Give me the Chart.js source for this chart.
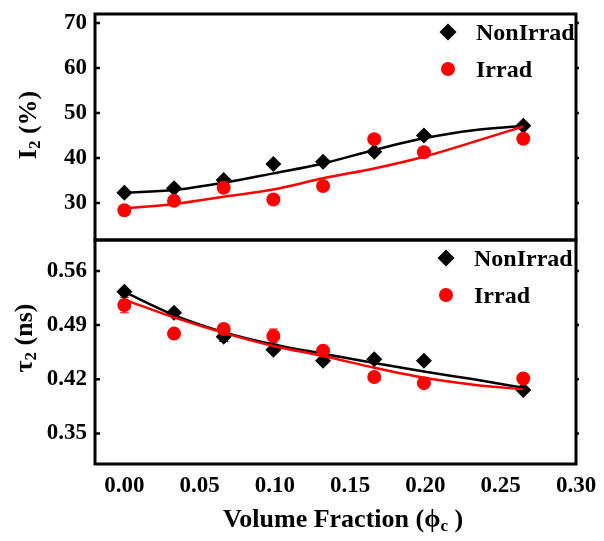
<!DOCTYPE html>
<html>
<head>
<meta charset="utf-8">
<script src="https://cdn.jsdelivr.net/npm/chart.js@4/dist/chart.umd.min.js"></script>
<style>
  body { margin: 0; background: #fff; }
  #wrap { position: relative; width: 604px; height: 541px; font-family: "Liberation Serif", serif; font-weight: bold; color: #000; }
  canvas { position: absolute; left: 0; }
  .lbl { position: absolute; white-space: nowrap; font-size: 24px; line-height: 24px; }
  .ytitle { font-size: 26px; transform: translate(-50%, -50%) rotate(-90deg); }
  .mk { position: absolute; transform: translate(-50%, -50%); }
  .dia { width: 12px; height: 12px; background: #000; transform: translate(-50%, -50%) rotate(45deg); }
  .dot { width: 14px; height: 14px; border-radius: 50%; background: #ff0000; }
  sub { font-size: 17px; vertical-align: -4px; }
</style>
</head>
<body>
<div id="wrap">
  <canvas id="topChart" width="604" height="250" style="top:0"></canvas>
  <canvas id="botChart" width="604" height="311" style="top:230px"></canvas>

  <div class="lbl ytitle" style="left:31px; top:125px;">I<sub>2</sub> (%)</div>
  <div class="lbl ytitle" style="left:27px; top:338px;">&tau;<sub>2</sub> (ns)</div>
  <div class="lbl" style="left:343px; top:522px; font-size:26px; transform:translate(-50%,-50%);">Volume Fraction (&#981;<sub>c</sub> )</div>

  <div class="mk dia" style="left:448px; top:32px;"></div>
  <div class="lbl" style="left:476px; top:20px;">NonIrrad</div>
  <div class="mk dot" style="left:448px; top:69px;"></div>
  <div class="lbl" style="left:476px; top:57px;">Irrad</div>

  <div class="mk dia" style="left:446px; top:258px;"></div>
  <div class="lbl" style="left:474px; top:246px;">NonIrrad</div>
  <div class="mk dot" style="left:446px; top:295px;"></div>
  <div class="lbl" style="left:474px; top:283px;">Irrad</div>
</div>
<script>
// volume fraction of the samples
const volFrac = [0.000, 0.033, 0.066, 0.099, 0.132, 0.166, 0.199, 0.265];
const fitX = [0.000, 0.033, 0.066, 0.099, 0.132, 0.166, 0.199, 0.232, 0.265];

// I2 (%)
const i2NonIrrad = [32.3, 33.3, 35.1, 38.7, 39.2, 41.4, 45.0, 47.2];
const i2Irrad = [28.4, 30.5, 33.4, 30.8, 33.8, 44.2, 41.3, 44.3];
const i2NonIrradFit = [32.3, 32.9, 34.5, 36.6, 38.8, 41.8, 44.4, 46.2, 47.1];
const i2IrradFit = [28.8, 29.8, 31.4, 33.0, 35.5, 37.7, 40.3, 43.6, 47.0];

// tau2 (ns)
const tau2NonIrrad = [0.533, 0.506, 0.475, 0.458, 0.444, 0.446, 0.444, 0.406];
const tau2Irrad = [0.516, 0.479, 0.485, 0.476, 0.457, 0.423, 0.415, 0.421];
const tau2NonIrradErr = [0.004, 0.003, 0.006, 0.003, 0.003, 0.003, 0.003, 0.003];
const tau2IrradErr = [0.010, 0.004, 0.005, 0.009, 0.004, 0.004, 0.004, 0.004];
const tau2NonIrradFit = [0.533, 0.503, 0.481, 0.465, 0.453, 0.441, 0.430, 0.420, 0.409];
const tau2IrradFit = [0.523, 0.500, 0.480, 0.463, 0.450, 0.435, 0.422, 0.413, 0.407];

// tick labels
const xTicks = [0.00, 0.05, 0.10, 0.15, 0.20, 0.25, 0.30];
const i2Ticks = [30, 40, 50, 60, 70];
const tau2Ticks = [0.35, 0.42, 0.49, 0.56];

const RED = '#ff0000';
const tickFont = { family: 'Liberation Serif', size: 23, weight: 'bold' };

const pts = (xs, ys) => xs.map((x, i) => ({ x: x, y: ys[i] }));

// frame + inward ticks on both sides
const framePlugin = {
    id: 'frame',
    afterDraw(chart) {
        const { ctx, chartArea: a } = chart;
        const ys = chart.scales.y;
        ctx.save();
        ctx.strokeStyle = '#000';
        ctx.lineWidth = 3;
        ctx.strokeRect(a.left, a.top, a.right - a.left, a.bottom - a.top);
        ctx.lineWidth = 2.5;
        ys.ticks.forEach(t => {
            const py = ys.getPixelForValue(t.value);
            ctx.beginPath();
            ctx.moveTo(a.left, py); ctx.lineTo(a.left + 5, py);
            ctx.moveTo(a.right, py); ctx.lineTo(a.right + 3, py);
            ctx.stroke();
        });
        ctx.restore();
    }
};

// error bars drawn before the markers
const errorPlugin = {
    id: 'errbars',
    beforeDatasetsDraw(chart, args, opts) {
        const { ctx } = chart;
        const xs = chart.scales.x, ys = chart.scales.y;
        ctx.save();
        ctx.lineWidth = 1.2;
        (opts.sets || []).forEach(s => {
            ctx.strokeStyle = s.color;
            s.y.forEach((v, i) => {
                const px = xs.getPixelForValue(s.x[i]);
                const p1 = ys.getPixelForValue(v - s.err[i]);
                const p2 = ys.getPixelForValue(v + s.err[i]);
                ctx.beginPath();
                ctx.moveTo(px, p1); ctx.lineTo(px, p2);
                ctx.moveTo(px - 4.5, p1); ctx.lineTo(px + 4.5, p1);
                ctx.moveTo(px - 4.5, p2); ctx.lineTo(px + 4.5, p2);
                ctx.stroke();
            });
        });
        ctx.restore();
    }
};

function makeSets(nonIrr, irr, nonFit, irrFit) {
    return [
        { data: pts(fitX, irrFit), showLine: true, pointRadius: 0, borderColor: RED, borderWidth: 2.5, cubicInterpolationMode: 'monotone' },
        { data: pts(volFrac, irr), showLine: false, pointStyle: 'circle', pointRadius: 7, backgroundColor: RED, borderColor: RED, borderWidth: 0 },
        { data: pts(fitX, nonFit), showLine: true, pointRadius: 0, borderColor: '#000', borderWidth: 2.5, cubicInterpolationMode: 'monotone' },
        { data: pts(volFrac, nonIrr), showLine: false, pointStyle: 'rectRot', pointRadius: 8, backgroundColor: '#000', borderColor: '#000', borderWidth: 0 }
    ];
}

function yScale(min, max, ticks, fmt) {
    return {
        min: min, max: max,
        afterFit(s) { s.width = 95; s.paddingTop = 0; s.paddingBottom = 0; },
        afterBuildTicks(s) { s.ticks = ticks.map(v => ({ value: v })); },
        grid: { display: false },
        border: { display: false },
        ticks: { font: tickFont, color: '#000', padding: 0, callback: fmt }
    };
}

new Chart(document.getElementById('topChart'), {
    type: 'scatter',
    data: { datasets: makeSets(i2NonIrrad, i2Irrad, i2NonIrradFit, i2IrradFit) },
    options: {
        responsive: false,
        animation: false,
        layout: { padding: { left: 0, right: 28, top: 14, bottom: 10 } },
        plugins: { legend: { display: false }, tooltip: { enabled: false } },
        scales: {
            x: { display: false, min: -0.0195, max: 0.30 },
            y: yScale(21.8, 72, i2Ticks, v => v.toFixed(0))
        }
    },
    plugins: [framePlugin]
});

new Chart(document.getElementById('botChart'), {
    type: 'scatter',
    data: { datasets: makeSets(tau2NonIrrad, tau2Irrad, tau2NonIrradFit, tau2IrradFit) },
    options: {
        responsive: false,
        animation: false,
        layout: { padding: { left: 0, right: 28, top: 10, bottom: 0 } },
        plugins: {
            legend: { display: false }, tooltip: { enabled: false },
            errbars: {
                sets: [
                    { x: volFrac, y: tau2NonIrrad, err: tau2NonIrradErr, color: '#000' },
                    { x: volFrac, y: tau2Irrad, err: tau2IrradErr, color: RED }
                ]
            }
        },
        scales: {
            x: {
                min: -0.0195, max: 0.30,
                afterFit(s) { s.height = 77; s.paddingLeft = 0; s.paddingRight = 0; },
                afterBuildTicks(s) { s.ticks = xTicks.map(v => ({ value: v })); },
                grid: { display: false },
                border: { display: false },
                ticks: { font: tickFont, color: '#000', padding: 0, maxRotation: 0, callback: v => v.toFixed(2) }
            },
            y: yScale(0.3105, 0.600, tau2Ticks, v => v.toFixed(2))
        }
    },
    plugins: [errorPlugin, framePlugin]
});
</script>
</body>
</html>
